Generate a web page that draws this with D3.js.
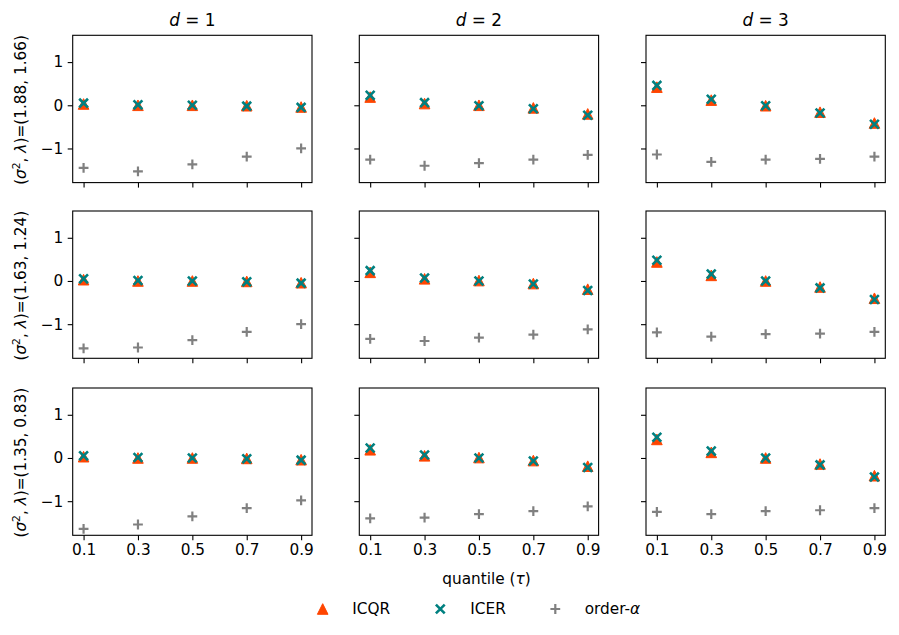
<!DOCTYPE html>
<html><head><meta charset="utf-8">
<script src="https://cdn.jsdelivr.net/npm/d3@7"></script>
<style>
body{margin:0;background:#fff}
svg text{font-family:"DejaVu Sans",sans-serif;fill:#000}
</style>
</head><body><svg id="c" width="899" height="635"></svg>
<script>
// ---------- data ----------
const quantiles = [0.1, 0.3, 0.5, 0.7, 0.9];
const dims = [1, 2, 3];
const settings = [["1.88", "1.66"], ["1.63", "1.24"], ["1.35", "0.83"]];
const xTicks = [0.1, 0.3, 0.5, 0.7, 0.9];
const yTicks = [-1, 0, 1];
const seriesNames = ["ICQR", "ICER", "order-α"];

// values[row][col][quantile]
const icqr = [
  [[0.03, 0.00, 0.00, -0.01, -0.04], [0.19, 0.04, 0.00, -0.06, -0.20], [0.42, 0.12, -0.01, -0.16, -0.41]],
  [[0.03, 0.00, 0.00, -0.01, -0.04], [0.20, 0.05, 0.01, -0.06, -0.19], [0.44, 0.13, 0.00, -0.14, -0.40]],
  [[0.03, 0.00, 0.00, -0.01, -0.04], [0.19, 0.05, 0.01, -0.06, -0.19], [0.43, 0.13, 0.00, -0.14, -0.41]]
];
const icer = [
  [[0.05, 0.01, 0.00, -0.02, -0.05], [0.23, 0.06, -0.01, -0.08, -0.23], [0.46, 0.14, -0.01, -0.18, -0.44]],
  [[0.05, 0.01, 0.00, -0.02, -0.05], [0.24, 0.07, 0.00, -0.07, -0.22], [0.48, 0.16, 0.00, -0.16, -0.43]],
  [[0.05, 0.01, 0.00, -0.02, -0.05], [0.23, 0.07, 0.00, -0.07, -0.22], [0.48, 0.16, 0.00, -0.16, -0.44]]
];
const orderAlpha = [
  [[-1.45, -1.53, -1.37, -1.19, -1.00], [-1.26, -1.40, -1.34, -1.26, -1.15], [-1.14, -1.31, -1.26, -1.24, -1.19]],
  [[-1.56, -1.54, -1.37, -1.18, -1.00], [-1.34, -1.39, -1.31, -1.24, -1.12], [-1.19, -1.29, -1.23, -1.22, -1.18]],
  [[-1.64, -1.54, -1.35, -1.16, -0.98], [-1.40, -1.38, -1.30, -1.23, -1.12], [-1.25, -1.30, -1.23, -1.21, -1.16]]
];

// ---------- layout ----------
const svg = d3.select("#c");
const colX = [72.7, 359.3, 646], panelW = 239.3;
const rowY = [35.3, 211, 388], panelH = 147.3;
const FS = 15.3;
const C_ICQR = "#ff4500", C_ICER = "#008080", C_ORD = "#808080";

const x = d3.scaleLinear().domain([0.06, 0.94]).range([0, panelW]);
const y = d3.scaleLinear().domain([-1.79, 1.62]).range([panelH, 0]);

function triPath(r){ return `M0,${-r}L${r},${r}L${-r},${r}Z`; }
function xPath(r){ return `M${-r},${-r}L${r},${r}M${-r},${r}L${r},${-r}`; }
function plusPath(r){ return `M${-r},0L${r},0M0,${-r}L0,${r}`; }

function drawTri(g, px, py){
  g.append("path").attr("d", triPath(5.3)).attr("transform", `translate(${px},${py})`)
    .attr("fill", C_ICQR).attr("stroke", C_ICQR).attr("stroke-width", 1);
}
function drawX(g, px, py){
  g.append("path").attr("d", xPath(4.4)).attr("transform", `translate(${px},${py})`)
    .attr("fill", "none").attr("stroke", C_ICER).attr("stroke-width", 2.6);
}
function drawPlus(g, px, py){
  g.append("path").attr("d", plusPath(4.9)).attr("transform", `translate(${px},${py})`)
    .attr("fill", "none").attr("stroke", C_ORD).attr("stroke-width", 2.2);
}

for (let r = 0; r < 3; r++) {
  for (let c = 0; c < 3; c++) {
    const g = svg.append("g").attr("transform", `translate(${colX[c]},${rowY[r]})`);
    const ax = d3.axisBottom(x).tickValues(xTicks).tickSize(5).tickPadding(4)
      .tickFormat(r === 2 ? d3.format(".1f") : () => "");
    const ay = d3.axisLeft(y).tickValues(yTicks).tickSize(5).tickPadding(4.5)
      .tickFormat(c === 0 ? d3.format("d") : () => "");
    const gx = g.append("g").attr("transform", `translate(0,${panelH})`).call(ax);
    const gy = g.append("g").call(ay);
    [gx, gy].forEach(a => {
      a.select(".domain").remove();
      a.selectAll("line").attr("stroke", "#000").attr("stroke-width", 1.1);
      a.selectAll("text").attr("font-size", FS).attr("font-family", "DejaVu Sans").attr("fill", "#000");
    });
    const pg = g.append("g");
    quantiles.forEach((q, i) => drawTri(pg, x(q), y(icqr[r][c][i])));
    quantiles.forEach((q, i) => drawX(pg, x(q), y(icer[r][c][i])));
    quantiles.forEach((q, i) => drawPlus(pg, x(q), y(orderAlpha[r][c][i])));
    g.append("rect").attr("x", 0).attr("y", 0).attr("width", panelW).attr("height", panelH)
      .attr("fill", "none").attr("stroke", "#000").attr("stroke-width", 1.1);
  }
}

// column titles
dims.forEach((d, c) => {
  const t = svg.append("text").attr("x", colX[c] + panelW / 2).attr("y", 25.5)
    .attr("text-anchor", "middle").attr("font-size", 16.9);
  t.append("tspan").attr("font-style", "italic").text("d");
  t.append("tspan").text(" = " + d);
});

// row labels
settings.forEach((s, r) => {
  const cy = rowY[r] + panelH / 2 + 1;
  const t = svg.append("text").attr("transform", `translate(25.5,${cy}) rotate(-90)`)
    .attr("text-anchor", "middle").attr("font-size", FS);
  t.append("tspan").text("(");
  t.append("tspan").attr("font-style", "italic").text("σ");
  t.append("tspan").attr("font-size", FS * 0.7).attr("dy", -6).text("2");
  t.append("tspan").attr("dy", 6).text(", ");
  t.append("tspan").attr("font-style", "italic").text("λ");
  t.append("tspan").text(`)=(${s[0]}, ${s[1]})`);
});

// x label
const xl = svg.append("text").attr("x", 486.5).attr("y", 584).attr("text-anchor", "middle").attr("font-size", FS);
xl.append("tspan").text("quantile (");
xl.append("tspan").attr("font-style", "italic").text("τ");
xl.append("tspan").text(")");

// legend
const legY = 609;
const legMarkX = [322.7, 440.3, 555.3];
const legTextX = [352.3, 470.3, 584.7];
const lg = svg.append("g");
drawTri(lg, legMarkX[0], legY);
drawX(lg, legMarkX[1], legY);
drawPlus(lg, legMarkX[2], legY);
seriesNames.forEach((n, i) => {
  const t = lg.append("text").attr("x", legTextX[i]).attr("y", legY + 5.3).attr("font-size", FS);
  if (n.endsWith("α")) {
    t.append("tspan").text(n.slice(0, -1));
    t.append("tspan").attr("font-style", "italic").text("α");
  } else t.text(n);
});
</script>
</body></html>
